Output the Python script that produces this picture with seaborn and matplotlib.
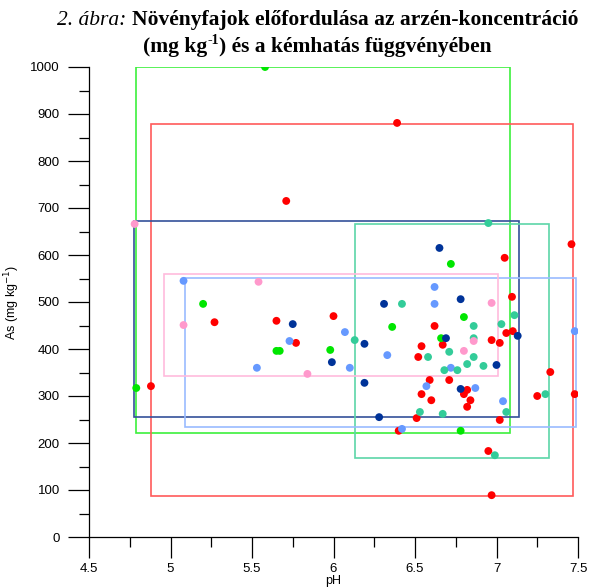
import pandas as pd
import seaborn as sns
import matplotlib.pyplot as plt
from matplotlib.patches import Rectangle
from matplotlib.ticker import MultipleLocator, FuncFormatter

sns.set_style("ticks")
plt.rcParams['font.family'] = ['Liberation Sans', 'DejaVu Sans']
plt.rcParams['text.color'] = 'black'
plt.rcParams['axes.labelcolor'] = 'black'
plt.rcParams['xtick.color'] = 'black'
plt.rcParams['ytick.color'] = 'black'

# point data per species (pH, As mg/kg)
red_ph = [6.39, 5.71, 6.00, 5.27, 5.65, 5.77, 4.88, 7.05, 7.46, 7.095, 6.62, 7.10, 7.06, 6.97, 7.02,
          6.54, 6.67, 6.52, 6.59, 6.71, 6.82, 6.80, 6.54, 6.84, 6.60, 6.82, 7.02, 7.25, 7.33, 7.48,
          6.51, 6.40, 6.95, 6.97]
red_as = [881, 715, 470, 457, 460, 413, 321, 594, 623, 511, 449, 438, 434, 419, 413,
          406, 409, 383, 334, 334, 313, 304, 304, 291, 291, 277, 249, 300, 351, 304,
          253, 226, 183, 89]

green_ph = [5.58, 5.20, 5.65, 5.67, 5.98, 4.79, 6.72, 6.36, 6.80, 6.66, 6.78]
green_as = [1000, 496, 396, 396, 398, 317, 581, 447, 468, 423, 226]

navy_ph = [6.31, 5.75, 5.99, 6.19, 6.19, 6.28, 6.65, 6.78, 7.13, 6.69, 7.00, 6.78]
navy_as = [496, 453, 372, 411, 328, 255, 615, 506, 428, 423, 366, 315]

lblue_ph = [5.08, 5.73, 5.53, 6.07, 6.10, 6.33, 6.62, 6.62, 7.48, 6.72, 6.57, 6.87, 7.04, 6.42]
lblue_as = [545, 417, 360, 436, 360, 387, 532, 496, 438, 360, 321, 317, 289, 230]

teal_ph = [6.42, 6.13, 6.95, 7.11, 6.86, 7.03, 6.86, 6.58, 6.71, 6.86, 6.82, 6.92, 6.68, 6.76,
           7.06, 7.30, 6.53, 6.67, 6.99]
teal_as = [496, 419, 668, 472, 449, 453, 423, 383, 394, 383, 368, 364, 355, 355,
           266, 304, 266, 262, 174]

pink_ph = [4.78, 5.54, 5.08, 5.84, 6.97, 6.86, 6.80]
pink_as = [666, 543, 451, 347, 498, 417, 396]

# ranges drawn as boxes: (pH min, pH max, As min, As max)
species = ["green", "red", "navy", "teal", "lblue", "pink"]
box_ph_min = [4.79, 4.88, 4.775, 6.13, 5.09, 4.96]
box_ph_max = [7.085, 7.47, 7.14, 7.32, 7.49, 7.01]
box_as_min = [222, 88, 255, 169, 234, 343]
box_as_max = [1000, 878, 672, 665, 552, 560]

point_colors = {"red": "#ff0000", "green": "#00e600", "navy": "#003399",
                "lblue": "#6699ff", "teal": "#33cc99", "pink": "#ff99cc"}
box_colors = {"red": "#ff5a5a", "green": "#3cf03c", "navy": "#34509a",
              "lblue": "#99bbff", "teal": "#5cd6a8", "pink": "#ffbbdd"}

frames = []
for name, xs, ys in [("red", red_ph, red_as), ("green", green_ph, green_as),
                     ("navy", navy_ph, navy_as), ("lblue", lblue_ph, lblue_as),
                     ("teal", teal_ph, teal_as), ("pink", pink_ph, pink_as)]:
    frames.append(pd.DataFrame({"pH": xs, "As": ys, "faj": name}))
df = pd.concat(frames, ignore_index=True)

fig = plt.figure(figsize=(5.99, 5.88), dpi=100)
ax = fig.add_axes([89 / 599, 1 - 537 / 588, (578 - 89) / 599, (537 - 67) / 588])

for i, name in enumerate(species):
    ax.add_patch(Rectangle((box_ph_min[i], box_as_min[i]),
                           box_ph_max[i] - box_ph_min[i],
                           box_as_max[i] - box_as_min[i],
                           fill=False, ec=box_colors[name], lw=1.2, zorder=1))

sns.scatterplot(data=df, x="pH", y="As", hue="faj", palette=point_colors,
                s=32, linewidth=0, legend=False, ax=ax, zorder=3)

ax.set_xlim(4.5, 7.5)
ax.set_ylim(0, 1000)
sns.despine(ax=ax)
for sp in ["left", "bottom"]:
    ax.spines[sp].set_linewidth(0.9)
    ax.spines[sp].set_color("black")
ax.spines["left"].set_zorder(0)
ax.spines["bottom"].set_zorder(0)

ax.xaxis.set_major_locator(MultipleLocator(0.5))
ax.xaxis.set_minor_locator(MultipleLocator(0.25))
ax.yaxis.set_major_locator(MultipleLocator(100))
ax.yaxis.set_minor_locator(MultipleLocator(50))
ax.xaxis.set_major_formatter(FuncFormatter(lambda v, p: f"{v:g}"))
ax.tick_params(which="major", length=15, width=0.9, color="black", labelsize=9.5, pad=4)
ax.tick_params(which="minor", length=7, width=0.9, color="black")
ax.tick_params(axis="y", which="major", pad=6)

ax.set_xlabel("pH", fontsize=9, labelpad=0)
ax.set_ylabel("As (mg kg$^{-1}$)", fontsize=9, labelpad=6)

# caption (two lines, mixed styles)
serif = "Liberation Serif"
fs = 15.5
fig.canvas.draw()
r = fig.canvas.get_renderer()


def put_line(parts, y, cx):
    texts = []
    for s, style, weight, size, dy in parts:
        t = fig.text(0, y + dy, s, fontsize=size, family=serif, style=style,
                     weight=weight, va="baseline", ha="left", color="black")
        texts.append(t)
    widths = [t.get_window_extent(r).width for t in texts]
    total = sum(widths)
    x = cx * 599 - total / 2
    for t, w in zip(texts, widths):
        t.set_x(x / 599)
        x += w


put_line([("2. ábra: ", "italic", "normal", fs, 0),
          ("Növényfajok előfordulása az arzén-koncentráció", "normal", "bold", fs, 0)],
         1 - 25 / 588, 0.53)
put_line([("(mg kg", "normal", "bold", fs, 0),
          ("-1", "normal", "bold", 10, 8 / 588),
          (") és a kémhatás függvényében", "normal", "bold", fs, 0)],
         1 - 52 / 588, 0.53)

fig.savefig("out.png", dpi=100)
